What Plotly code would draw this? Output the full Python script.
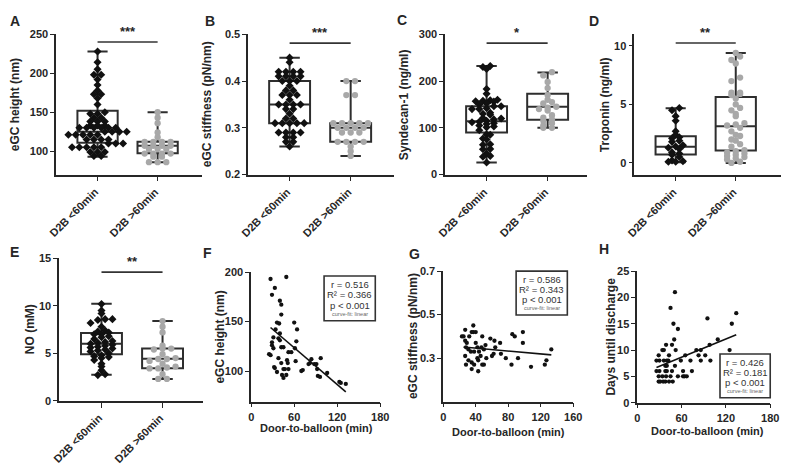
import plotly.graph_objects as go

W, H = 794, 473
FONT = "Liberation Sans, Arial, sans-serif"
AX = "#262626"
BLACK = "#111111"
GRAY = "#a8a8a8"

categories = ["D2B <60min", "D2B >60min"]

# ---------------- data: box panels (box stats = [min, q1, median, q3, max]) --------------
A_box_lt60 = [93, 111, 125, 152, 228]
A_box_gt60 = [86, 97.5, 107, 112, 150]
A_pts_lt60 = [228, 214, 205, 198, 198, 192, 185, 178, 173, 173, 168, 160, 150, 148, 148, 143, 143,
              138, 138, 138, 133, 133, 133, 130, 130, 130, 130, 130, 130, 125, 125, 125, 125,
              121, 121, 121, 121, 121, 115, 115, 115, 115, 110, 110, 110, 105, 105, 105, 105, 105,
              99, 99, 99, 94, 94]
A_pts_gt60 = [150, 143, 136, 124, 118, 112, 112, 112, 112, 107, 107, 107, 107, 103, 103, 103,
              97, 97, 97, 97, 93, 93, 86, 86, 86]

B_box_lt60 = [0.26, 0.31, 0.35, 0.40, 0.45]
B_box_gt60 = [0.24, 0.27, 0.30, 0.31, 0.40]
B_pts_lt60 = [0.45, 0.44, 0.42, 0.42, 0.42, 0.42, 0.41, 0.41, 0.41, 0.41, 0.40, 0.40, 0.40, 0.39,
              0.38, 0.38, 0.37, 0.37, 0.37, 0.36, 0.35, 0.35, 0.35, 0.35, 0.34, 0.34, 0.33, 0.32,
              0.32, 0.31, 0.31, 0.31, 0.31, 0.31, 0.29, 0.29, 0.29, 0.29, 0.28, 0.28, 0.27, 0.27, 0.26]
B_pts_gt60 = [0.40, 0.40, 0.37, 0.37, 0.31, 0.31, 0.31, 0.31, 0.31, 0.30, 0.30, 0.30, 0.30,
              0.29, 0.29, 0.29, 0.27, 0.27, 0.27, 0.27, 0.26, 0.25, 0.24]

C_box_lt60 = [26, 90, 114, 146, 232]
C_box_gt60 = [100, 117, 145, 173, 218]
C_pts_lt60 = [232, 230, 226, 183, 173, 160, 159, 158, 157, 156, 152, 150, 146, 146, 142, 140, 140,
              132, 130, 128, 121, 120, 118, 115, 113, 112, 110, 108, 105, 103, 101, 95, 86, 85,
              77, 75, 65, 64, 55, 54, 45, 40, 38, 26]
C_pts_gt60 = [219, 212, 198, 185, 170, 160, 155, 152, 145, 143, 140, 137, 127, 122, 118, 115,
              110, 105, 100, 100]

D_box_lt60 = [0.05, 0.72, 1.39, 2.28, 4.67]
D_box_gt60 = [0.0, 1.06, 3.14, 5.64, 9.39]
D_pts_lt60 = [4.7, 4.5, 4.0, 3.6, 2.7, 2.4, 2.2, 2.1, 1.9, 1.8, 1.5, 1.4, 1.3, 1.2, 0.9, 0.8,
              0.7, 0.5, 0.2, 0.15, 0.1, 0.1]
D_pts_gt60 = [9.4, 9.1, 8.8, 8.5, 7.3, 7.0, 6.0, 6.0, 5.9, 5.8, 5.5, 5.0, 4.7, 4.5, 4.2, 4.0,
              3.4, 3.3, 3.2, 3.0, 2.7, 2.4, 2.3, 2.0, 1.9, 1.6, 1.4, 1.1, 1.0, 0.9, 0.8, 0.7,
              0.6, 0.5, 0.4, 0.3, 0.1, 0.0]

E_box_lt60 = [2.75, 4.9, 6.0, 7.14, 10.23]
E_box_gt60 = [2.3, 3.43, 4.43, 5.5, 8.4]
E_pts_lt60 = [10.2, 9.5, 9.2, 8.6, 8.6, 8.5, 8.2, 7.8, 7.4, 7.3, 7.2, 7.0, 7.0, 6.8, 6.7, 6.5,
              6.3, 6.2, 6.1, 6.0, 5.9, 5.8, 5.7, 5.6, 5.5, 5.4, 5.3, 5.2, 5.0, 4.8, 4.7, 4.6,
              4.5, 4.3, 3.9, 3.6, 3.2, 2.8, 2.7]
E_pts_gt60 = [8.4, 7.8, 7.2, 5.8, 5.5, 5.5, 5.4, 4.9, 4.5, 4.4, 4.4, 4.2, 3.9, 3.6, 3.5, 3.4,
              3.4, 2.8, 2.3, 2.3]

# ---------------- data: correlation panels -----------------
F_x = [27, 29, 33, 49, 40, 42, 42, 36, 39, 34, 60, 64, 31, 29, 29, 31, 40, 38, 40, 42,
       45, 52, 56, 61, 63, 62, 50, 51, 25, 27, 32, 33, 38, 42, 45, 47, 52, 43, 45, 49,
       36, 70, 72, 80, 82, 84, 88, 91, 92, 93, 96, 97, 106, 123, 125, 132]
F_y = [193, 177, 184, 195, 171, 167, 157, 149, 148, 142, 149, 142, 134, 129, 126, 123, 138, 133, 131, 124,
       124, 119, 119, 123, 130, 110, 111, 108, 117, 116, 104, 103, 113, 108, 102, 102, 102, 96, 93, 96,
       99, 100, 101, 107, 108, 112, 107, 107, 102, 95, 94, 113, 98, 89, 88, 87]
F_fit_x = [27, 132]
F_fit_y = [144, 79]
F_stats = ["r = 0.516", "R² = 0.366", "p < 0.001", "curve-fit: linear"]

G_x = [23, 25, 27, 27, 29, 28, 37, 35, 37, 40, 32, 40, 42, 31, 27, 28, 31, 35, 38, 35, 43, 42, 46, 43,
       48, 47, 50, 52, 48, 50, 53, 58, 60, 62, 63, 64, 70, 71, 77, 84, 85, 88, 92, 98, 98, 108,
       125, 127, 133, 34, 38, 44]
G_y = [0.40, 0.40, 0.43, 0.38, 0.37, 0.35, 0.45, 0.42, 0.42, 0.42, 0.40, 0.37, 0.35, 0.34, 0.31, 0.27,
       0.29, 0.28, 0.27, 0.25, 0.29, 0.30, 0.31, 0.24, 0.40, 0.35, 0.34, 0.36, 0.27, 0.27, 0.30, 0.39,
       0.31, 0.32, 0.38, 0.35, 0.37, 0.32, 0.30, 0.27, 0.41, 0.40, 0.30, 0.42, 0.37, 0.26, 0.27, 0.29,
       0.34, 0.33, 0.33, 0.33]
G_fit_x = [25, 133]
G_fit_y = [0.351, 0.315]
G_stats = ["r = 0.586", "R² = 0.343", "p < 0.001", "curve-fit: linear"]

H_x = [51, 45, 49, 55, 50, 47, 39, 34, 36, 52, 29, 43, 30, 36, 40, 42, 59, 72, 38, 40, 51, 26, 30, 38,
       40, 47, 62, 74, 29, 34, 39, 45, 55, 62, 64, 67, 29, 31, 35, 38, 43, 48, 65, 80, 83, 86, 86,
       92, 95, 98, 99, 109, 125, 128, 134, 26]
H_y = [21, 18, 15, 14, 12, 11, 11, 10, 10, 10, 9, 9, 8, 8, 8, 8, 8, 8, 7, 7, 7, 6, 6, 6,
       6, 6, 6, 6, 5, 5, 5, 5, 5, 5, 5, 5, 4, 4, 4, 4, 4, 4, 9, 10, 9, 10, 8,
       9, 16, 11, 8, 12, 10, 15, 17, 8]
H_fit_x = [26, 134]
H_fit_y = [6.7, 12.9]
H_stats = ["r = 0.426", "R² = 0.181", "p < 0.001", "curve-fit: linear"]


def fx(px):
    return px / W


def fy(py):
    return 1 - py / H


def swarm_rows(vals, ypx, binpx, spacing):
    """Prism-like scatter dot layout: points binned into rows, each row centred."""
    bins = {}
    for i, v in enumerate(vals):
        bins.setdefault(round(v * ypx / binpx), []).append(i)
    offs = [0.0] * len(vals)
    for idxs in bins.values():
        n = len(idxs)
        for j, i in enumerate(sorted(idxs, key=lambda k: vals[k])):
            offs[i] = (j - (n - 1) / 2) * spacing
    return offs


fig = go.Figure()
layout = dict(width=W, height=H, margin=dict(l=0, r=0, t=0, b=0),
              paper_bgcolor="white", plot_bgcolor="white", showlegend=False,
              font=dict(family=FONT, color=AX), shapes=[], annotations=[])

tickfont = dict(family=FONT, size=11, color=AX, weight="bold")


def axis_names(idx):
    return ("x" if idx == 1 else f"x{idx}", "y" if idx == 1 else f"y{idx}",
            "xaxis" if idx == 1 else f"xaxis{idx}", "yaxis" if idx == 1 else f"yaxis{idx}")


def base_axis(**kw):
    d = dict(showline=True, linecolor=AX, linewidth=1.6, ticks="outside", ticklen=4,
             tickwidth=1.4, tickcolor=AX, showgrid=False, zeroline=False,
             tickfont=tickfont, fixedrange=True)
    d.update(kw)
    return d


def text_ann(x, y, text, size, angle=0, bold=True, color=AX):
    layout["annotations"].append(dict(
        xref="paper", yref="paper", x=fx(x), y=fy(y), text=text, showarrow=False,
        xanchor="center", yanchor="middle", textangle=angle,
        font=dict(family=FONT, size=size, color=color, weight="bold" if bold else "normal")))


def box_panel(idx, box1, box2, pts1, pts2, yr, yticks, L, R, c0, c1, T, B,
              sig_y, stars, ylabel, ylab_x, letter, letter_xy):
    xa, ya, xk, yk = axis_names(idx)
    ppu = c1 - c0
    xr = [-(c0 - L) / ppu, 1 + (R - c1) / ppu]
    ypx = (B - T) / (yr[1] - yr[0])
    for k, bx in enumerate([box1, box2]):
        fig.add_trace(go.Box(x=[k], lowerfence=[bx[0]], q1=[bx[1]], median=[bx[2]], q3=[bx[3]],
                             upperfence=[bx[4]], width=0.67, whiskerwidth=0.5,
                             fillcolor="rgba(255,255,255,0)", line=dict(color="#2e2e2e", width=2),
                             boxpoints=False, xaxis=xa, yaxis=ya, hoverinfo="skip"))
    for k, (pts, col, sym, size, sp) in enumerate([(pts1, BLACK, "diamond", 6.2, 7.4),
                                                    (pts2, GRAY, "circle", 6.3, 8.8)]):
        offs = swarm_rows(pts, ypx, 4.3, sp)
        fig.add_trace(go.Scatter(x=[k + o / ppu for o in offs], y=pts, mode="markers",
                                 marker=dict(symbol=sym, size=size, color=col, line=dict(width=0)),
                                 xaxis=xa, yaxis=ya, hoverinfo="skip", cliponaxis=False))
    layout[xk] = base_axis(domain=[fx(L), fx(R)], range=xr, anchor=ya, tickvals=[0, 1],
                           showticklabels=False, ticklen=5)
    layout[yk] = base_axis(domain=[fy(B), fy(T)], range=yr, anchor=xa, tickvals=yticks)
    # rotated category labels
    for k, cat in enumerate(categories):
        layout["annotations"].append(dict(
            xref=xa, yref="paper", x=k, y=fy(B), text=cat, showarrow=False, textangle=-45,
            xanchor="right", yanchor="top", xshift=5, yshift=-9, borderpad=0, font=tickfont))
    layout["shapes"].append(dict(type="line", xref=xa, yref=ya, x0=0, x1=1, y0=sig_y, y1=sig_y,
                                 line=dict(color="#333333", width=1.6)))
    layout["annotations"].append(dict(xref=xa, yref=ya, x=0.5, y=sig_y, text=stars, showarrow=False,
                                      xanchor="center", yanchor="bottom", yshift=1,
                                      font=dict(family=FONT, size=13, color=AX, weight="bold")))
    text_ann(ylab_x, (T + B) / 2, ylabel, 12, angle=-90)
    text_ann(letter_xy[0], letter_xy[1], letter, 14)


def scatter_panel(idx, xs, ys, fitx, fity, xr, xticks, yr, yticks, L, R, T, B, stats, sbox,
                  ylabel, ylab_x, xlab_xy, letter, letter_xy):
    xa, ya, xk, yk = axis_names(idx)
    fig.add_trace(go.Scatter(x=xs, y=ys, mode="markers",
                             marker=dict(symbol="circle", size=4.3, color=BLACK, line=dict(width=0)),
                             xaxis=xa, yaxis=ya, hoverinfo="skip", cliponaxis=False))
    fig.add_trace(go.Scatter(x=fitx, y=fity, mode="lines", line=dict(color=BLACK, width=1.6),
                             xaxis=xa, yaxis=ya, hoverinfo="skip"))
    layout[xk] = base_axis(domain=[fx(L), fx(R)], range=xr, anchor=ya, tickvals=xticks)
    layout[yk] = base_axis(domain=[fy(B), fy(T)], range=yr, anchor=xa, tickvals=yticks)
    x0, y0, x1, y1 = sbox
    layout["shapes"].append(dict(type="rect", xref="paper", yref="paper", x0=fx(x0), x1=fx(x1),
                                 y0=fy(y1), y1=fy(y0), fillcolor="white",
                                 line=dict(color="#333333", width=1.6), layer="above"))
    cx = (x0 + x1) / 2
    hgt = y1 - y0
    for j, t in enumerate(stats):
        yy = y0 + hgt * [0.19, 0.42, 0.65, 0.85][j]
        if j < 3:
            text_ann(cx, yy, t, 9.5, bold=False, color="#333333")
        else:
            text_ann(cx, yy, t, 5.5, bold=False, color="#666666")
    text_ann(ylab_x, (T + B) / 2, ylabel, 12, angle=-90)
    text_ann(xlab_xy[0], xlab_xy[1], "Door-to-balloon (min)", 11)
    text_ann(letter_xy[0], letter_xy[1], letter, 14)


box_panel(1, A_box_lt60, A_box_gt60, A_pts_lt60, A_pts_gt60, [70, 250], [100, 150, 200, 250],
          54, 202, 96, 157, 29, 173, 240, "***", "eGC height (nm)", 13, "A", (12, 15))
box_panel(2, B_box_lt60, B_box_gt60, B_pts_lt60, B_pts_gt60, [0.2, 0.5], [0.2, 0.3, 0.4, 0.5],
          249, 397, 291, 353, 29, 173, 0.481, "***", "eGC stiffness (pN/nm)", 208, "B", (210, 15))
box_panel(3, C_box_lt60, C_box_gt60, C_pts_lt60, C_pts_gt60, [0, 300], [0, 100, 200, 300],
          449, 593, 491, 553, 29, 173, 281, "*", "Syndecan-1 (ng/ml)", 408, "C", (405, 14))
box_panel(4, D_box_lt60, D_box_gt60, D_pts_lt60, D_pts_gt60, [-1, 11], [0, 5, 10],
          641, 790, 683, 744, 29, 173, 10.25, "**", "Troponin (ng/ml)", 612, "D", (600, 15))
box_panel(5, E_box_lt60, E_box_gt60, E_pts_lt60, E_pts_gt60, [0, 15], [0, 5, 10, 15],
          57, 203, 100, 162, 259, 405, 13.56, "**", "NO (mM)", 27, "E", (12, 252))

scatter_panel(6, F_x, F_y, F_fit_x, F_fit_y, [0, 180], [0, 60, 120, 180], [69, 200], [100, 150, 200],
              252, 383, 273, 406, F_stats, (326, 277, 378, 323), "eGC height (nm)", 220, (318, 433),
              "F", (208, 253))
scatter_panel(7, G_x, G_y, G_fit_x, G_fit_y, [0, 160], [0, 40, 80, 120, 160], [0.1, 0.7], [0.3, 0.5, 0.7],
              447, 579, 272, 406, G_stats, (521, 272, 573, 317), "eGC stiffness (pN/nm)", 417, (513, 437),
              "G", (418, 254))
scatter_panel(8, H_x, H_y, H_fit_x, H_fit_y, [0, 180], [0, 60, 120, 180], [0, 25], [0, 5, 10, 15, 20, 25],
              644, 779, 272, 407, H_stats, (728, 357, 779, 402), "Days until discharge", 617, (715, 436),
              "H", (610, 249))

fig.update_layout(**layout)
fig.write_html("out.html", config={"displayModeBar": False},
               post_script="document.body.style.margin='0';document.body.style.overflow='hidden';")
